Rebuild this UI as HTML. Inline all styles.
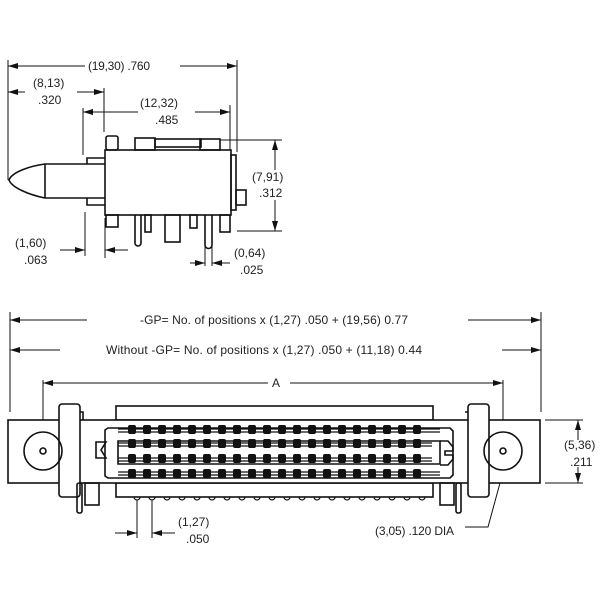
<!DOCTYPE html>
<html><head><style>body{margin:0;background:#fff}svg{display:block}text{font-family:"Liberation Sans Narrow","Liberation Sans",sans-serif;font-size:12px;fill:#222}</style></head>
<body>
<svg width="600" height="600" viewBox="0 0 600 600" xmlns="http://www.w3.org/2000/svg">
<defs>
<marker id="a" viewBox="0 0 10 6" refX="10" refY="3" markerWidth="14" markerHeight="6" markerUnits="userSpaceOnUse" orient="auto"><path d="M0,0L10,3L0,6z" fill="#111"/></marker>
</defs>
<g stroke="#111" stroke-width="1" fill="none">
<!-- top view extension lines -->
<line x1="8" y1="60" x2="8" y2="180"/>
<line x1="237" y1="60" x2="237" y2="152"/>
<line x1="104" y1="88" x2="104" y2="132"/>
<line x1="83" y1="108" x2="83" y2="155"/>
<line x1="230" y1="105" x2="230" y2="150"/>
<line x1="220" y1="140" x2="282" y2="140"/>
<line x1="237" y1="231" x2="282" y2="231"/>
<line x1="85" y1="212" x2="85" y2="256"/>
<line x1="105" y1="218" x2="105" y2="258"/>
<line x1="205" y1="240" x2="205" y2="266"/>
<line x1="212" y1="240" x2="212" y2="266"/>
<!-- dims top -->
<g marker-end="url(#a)">
<line x1="85" y1="66" x2="8" y2="66"/><line x1="180" y1="66" x2="237" y2="66"/>
<line x1="25" y1="92" x2="8" y2="92"/><line x1="77" y1="92" x2="104" y2="92"/>
<line x1="138" y1="112" x2="83" y2="112"/><line x1="195" y1="112" x2="230" y2="112"/>
<line x1="275" y1="170" x2="275" y2="140"/><line x1="275" y1="200" x2="275" y2="231"/>
<line x1="60" y1="250" x2="85" y2="250"/><line x1="128" y1="250" x2="105" y2="250"/>
<line x1="190" y1="263" x2="205" y2="263"/><line x1="230" y1="263" x2="212" y2="263"/>
</g>
<!-- top view body -->
<g stroke-width="1.6">
<rect x="105" y="150" width="126" height="65"/>
<path d="M105,164H45C30,166 12,172 9,180C12,188 30,195 45,198H105"/>
<line x1="45" y1="164" x2="45" y2="198"/>
<path d="M87,164V158H105M87,198V205H105"/>
<rect x="106" y="136" width="12" height="14" rx="2"/>
<rect x="135" y="138" width="20" height="12"/>
<rect x="155" y="139" width="46" height="8"/>
<rect x="200" y="139" width="20" height="11"/>
<rect x="231" y="155" width="5" height="55"/>
<rect x="236" y="190" width="10" height="15"/>
<rect x="106" y="215" width="12" height="12"/>
<path d="M135,215V243a3,3 0 0 0 6,0V215"/>
<rect x="145" y="215" width="6" height="17"/>
<rect x="165" y="215" width="15" height="27"/>
<rect x="190" y="215" width="7" height="13"/>
<path d="M205,215V245a3,3 0 0 0 7,0V215"/>
<rect x="220" y="215" width="10" height="17"/>
</g>
<!-- bottom view dims -->
<line x1="10" y1="312" x2="10" y2="412"/>
<line x1="541" y1="312" x2="541" y2="412"/>
<line x1="43" y1="380" x2="43" y2="445"/>
<line x1="503" y1="380" x2="503" y2="445"/>
<line x1="545" y1="420" x2="583" y2="420"/>
<line x1="545" y1="483" x2="583" y2="483"/>
<line x1="137" y1="500" x2="137" y2="538"/>
<line x1="152" y1="500" x2="152" y2="538"/>
<g marker-end="url(#a)">
<line x1="87" y1="320" x2="10" y2="320"/><line x1="468" y1="320" x2="541" y2="320"/>
<line x1="60" y1="350" x2="10" y2="350"/><line x1="502" y1="350" x2="541" y2="350"/>
<line x1="268" y1="383" x2="43" y2="383"/><line x1="290" y1="383" x2="503" y2="383"/>
<line x1="578" y1="440" x2="578" y2="420"/><line x1="578" y1="467" x2="578" y2="483"/>
<line x1="115" y1="533" x2="137" y2="533"/><line x1="175" y1="533" x2="152" y2="533"/>
</g>
<path d="M465,527H488L503,472"/>
<!-- bottom body -->
<g stroke-width="1.6">
<rect x="116" y="406" width="317" height="14"/>
<rect x="116" y="483" width="317" height="14"/>
<rect x="8" y="420" width="532" height="63" fill="#fff"/>
<rect x="59" y="404" width="21" height="93" rx="3" fill="#fff"/>
<rect x="468" y="404" width="21" height="93" rx="3" fill="#fff"/>
<path d="M80,412h3v8M465,412h3"/>
<circle cx="43" cy="451" r="19"/><circle cx="43" cy="451" r="3"/>
<circle cx="503" cy="451" r="19"/><circle cx="503" cy="451" r="3"/>
<path d="M105,430l3,-2H450l3,3V475l-3,3H108l-3,-2z"/>
<path d="M118,441H440V464H118z"/>
<path d="M96,442h10l-5,8l5,8h-10z"/>
<path d="M440,441h8l5,6v4h-8v4h8v4l-5,6h-8"/>
<rect x="77" y="483" width="5" height="30" rx="2"/>
<rect x="85" y="483" width="14" height="22"/>
<rect x="440" y="483" width="14" height="22"/>
<rect x="456" y="483" width="5" height="30" rx="2"/>
</g>
<g stroke-width="1.2">
<line x1="118" y1="429" x2="440" y2="429"/><line x1="118" y1="432" x2="440" y2="432"/>
<line x1="118" y1="443" x2="432" y2="443"/><line x1="118" y1="446" x2="432" y2="446"/>
<line x1="118" y1="458" x2="432" y2="458"/><line x1="118" y1="461" x2="432" y2="461"/>
<line x1="118" y1="472" x2="440" y2="472"/><line x1="118" y1="475" x2="440" y2="475"/>
</g>
</g>
<g fill="#111" id="dots">
<script>/*none*/</script>
</g>
<g fill="#111">
<!-- dots generated inline -->
<g id="row">
<rect x="128" y="425" width="8" height="9" rx="2"/><rect x="143" y="425" width="8" height="9" rx="2"/><rect x="158" y="425" width="8" height="9" rx="2"/><rect x="173" y="425" width="8" height="9" rx="2"/><rect x="188" y="425" width="8" height="9" rx="2"/><rect x="203" y="425" width="8" height="9" rx="2"/><rect x="218" y="425" width="8" height="9" rx="2"/><rect x="233" y="425" width="8" height="9" rx="2"/><rect x="248" y="425" width="8" height="9" rx="2"/><rect x="263" y="425" width="8" height="9" rx="2"/><rect x="278" y="425" width="8" height="9" rx="2"/><rect x="293" y="425" width="8" height="9" rx="2"/><rect x="308" y="425" width="8" height="9" rx="2"/><rect x="323" y="425" width="8" height="9" rx="2"/><rect x="338" y="425" width="8" height="9" rx="2"/><rect x="353" y="425" width="8" height="9" rx="2"/><rect x="368" y="425" width="8" height="9" rx="2"/><rect x="383" y="425" width="8" height="9" rx="2"/><rect x="398" y="425" width="8" height="9" rx="2"/><rect x="413" y="425" width="8" height="9" rx="2"/>
</g>
<use href="#row" y="14"/><use href="#row" y="29"/><use href="#row" y="44"/>
</g>
<g fill="none" stroke="#111" stroke-width="1.2">
<path d="M134,497a3,3 0 0 0 6,0M149,497a3,3 0 0 0 6,0M164,497a3,3 0 0 0 6,0M179,497a3,3 0 0 0 6,0M194,497a3,3 0 0 0 6,0M209,497a3,3 0 0 0 6,0M224,497a3,3 0 0 0 6,0M239,497a3,3 0 0 0 6,0M254,497a3,3 0 0 0 6,0M269,497a3,3 0 0 0 6,0M284,497a3,3 0 0 0 6,0M299,497a3,3 0 0 0 6,0M314,497a3,3 0 0 0 6,0M329,497a3,3 0 0 0 6,0M344,497a3,3 0 0 0 6,0M359,497a3,3 0 0 0 6,0M374,497a3,3 0 0 0 6,0M389,497a3,3 0 0 0 6,0M404,497a3,3 0 0 0 6,0M419,497a3,3 0 0 0 6,0"/>
</g>
<!-- text -->
<text x="88" y="70" textLength="62">(19,30) .760</text>
<text x="33" y="87">(8,13)</text><text x="38" y="104">.320</text>
<text x="140" y="107">(12,32)</text><text x="155" y="124">.485</text>
<text x="252" y="181">(7,91)</text><text x="259" y="197">.312</text>
<text x="15" y="247">(1,60)</text><text x="24" y="264">.063</text>
<text x="234" y="257">(0,64)</text><text x="240" y="274">.025</text>
<text x="140" y="324" textLength="268">-GP= No. of positions x (1,27) .050 + (19,56) 0.77</text>
<text x="106" y="354" textLength="316">Without -GP= No. of positions x (1,27) .050 + (11,18) 0.44</text>
<text x="272" y="387">A</text>
<text x="564" y="449">(5,36)</text><text x="570" y="466">.211</text>
<text x="178" y="526">(1,27)</text><text x="186" y="543">.050</text>
<text x="375" y="535" textLength="79">(3,05) .120 DIA</text>
</svg>
</body></html>
